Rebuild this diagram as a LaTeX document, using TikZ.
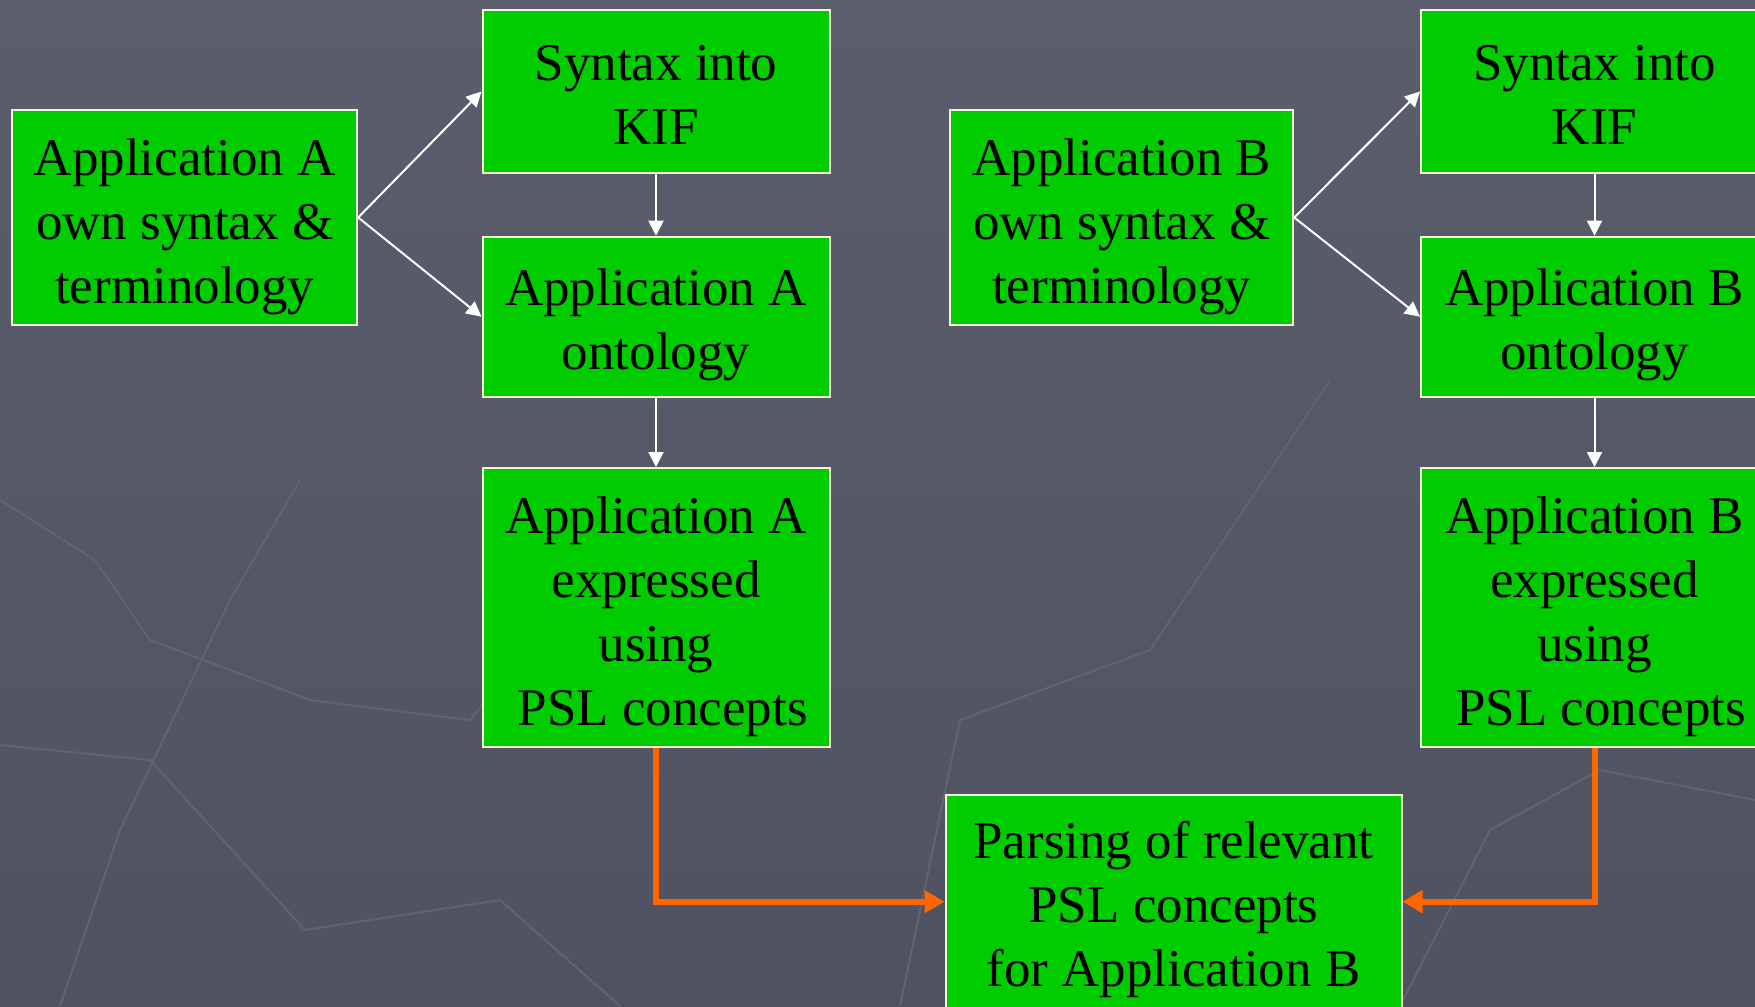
\documentclass[tikz,border=0pt]{standalone}
\usepackage{fontspec}
\setmainfont{Liberation Serif}
\usetikzlibrary{arrows.meta}
\definecolor{bgtop}{HTML}{5A5D6C}
\definecolor{bgbot}{HTML}{4F5260}
\definecolor{boxgreen}{HTML}{00CC00}
\definecolor{boxedge}{HTML}{F4F2D8}
\definecolor{linkorange}{HTML}{FF6600}
\definecolor{faint}{HTML}{61646F}
\tikzset{
  gbox/.style={draw=boxedge, line width=2pt, fill=boxgreen, rectangle, inner sep=0pt},
  gtext/.style={inner sep=0pt, align=center, text=black, font=\fontsize{53}{64}\selectfont},
  wlink/.style={draw=white, line width=2pt, -{Triangle[length=15pt,width=15pt]}},
  olink/.style={draw=linkorange, line width=6pt, -{Triangle[length=20pt,width=22pt]}}
}
\begin{document}
\begin{tikzpicture}[x=1pt,y=-1pt]
\useasboundingbox (0,0) rectangle (1755,1006);
\clip (0,0) rectangle (1755,1006);
\shade[top color=bgtop, bottom color=bgbot] (0,0) rectangle (1755,1006);
% faint background lines
\begin{scope}[draw=faint, line width=2pt]
\draw (0,500) -- (95,560) -- (150,640) -- (310,700) -- (470,720) -- (560,610);
\draw (0,745) -- (150,760) -- (305,930) -- (500,900) -- (620,1006);
\draw (60,1006) -- (120,830) -- (230,600) -- (300,480);
\draw (900,1006) -- (960,720) -- (1150,650) -- (1250,500) -- (1330,380);
\draw (1400,1006) -- (1490,830) -- (1600,770) -- (1755,800);
\end{scope}

% boxes
\node[gbox, minimum width=345pt, minimum height=215pt] (aown) at (184.7,217.5) {};
\node[gbox, minimum width=347pt, minimum height=163pt] (akif) at (656,91.5) {};
\node[gbox, minimum width=347pt, minimum height=160pt] (aont) at (656,316.7) {};
\node[gbox, minimum width=347pt, minimum height=279pt] (aexp) at (656,607.5) {};
\node[gbox, minimum width=343pt, minimum height=215pt] (bown) at (1121.7,217.5) {};
\node[gbox, minimum width=347pt, minimum height=163pt] (bkif) at (1594.5,91.5) {};
\node[gbox, minimum width=347pt, minimum height=160pt] (bont) at (1594.5,316.7) {};
\node[gbox, minimum width=347pt, minimum height=279pt] (bexp) at (1594.5,607.5) {};
\node[gbox, minimum width=456pt, minimum height=213.4pt] (parse) at (1173.5,901.7) {};

% texts
\node[gtext] (aownT) at ([yshift=-9pt]aown.center) {Application A\\own syntax \&\\terminology};
\node[gtext] (akifT) at ([yshift=-3.5pt]akif.center) {Syntax into\\KIF};
\node[gtext] (aontT) at ([yshift=-8pt]aont.center) {Application A\\ontology};
\node[gtext] (aexpT) at ([yshift=-9pt]aexp.center) {Application A\\expressed\\using\\~PSL concepts};
\node[gtext] (bownT) at ([yshift=-9pt]bown.center) {Application B\\own syntax \&\\terminology};
\node[gtext] (bkifT) at ([yshift=-3.5pt]bkif.center) {Syntax into\\KIF};
\node[gtext] (bontT) at ([yshift=-8pt]bont.center) {Application B\\ontology};
\node[gtext] (bexpT) at ([yshift=-9pt]bexp.center) {Application B\\expressed\\using\\~PSL concepts};
\node[gtext] (parseT) at ([yshift=-7.5pt]parse.center) {Parsing of relevant~\\PSL concepts\\for Application B};

% connectors
\draw[wlink] (aown.east) -- (akif.west);
\draw[wlink] (aown.east) -- (aont.west);
\draw[wlink] (akif.south) -- (aont.north);
\draw[wlink] (aont.south) -- (aexp.north);

\draw[wlink] (bown.east) -- (bkif.west);
\draw[wlink] (bown.east) -- (bont.west);
\draw[wlink] (bkif.south) -- (bont.north);
\draw[wlink] (bont.south) -- (bexp.north);

\draw[olink] (aexp.south) |- (parse.west);
\draw[olink] (bexp.south) |- (parse.east);
\end{tikzpicture}
\end{document}
